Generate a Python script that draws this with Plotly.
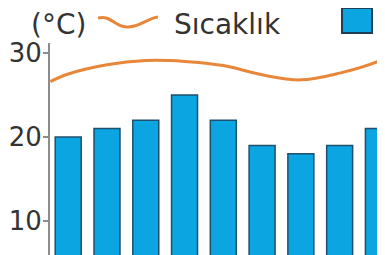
import plotly.graph_objects as go

# ---- data ----
months = ["Ocak", "Şubat", "Mart", "Nisan", "Mayıs", "Haziran", "Temmuz", "Ağustos", "Eylül"]
precip = [20, 21, 22, 25, 22, 19, 18, 19, 21]
temp_x = [-0.46, 0, 1, 2, 3, 4, 5, 6, 7, 8, 8.17]
temp = [26.6, 27.5, 28.6, 29.1, 29.0, 28.5, 27.4, 26.8, 27.6, 29.0, 29.4]
yticks = [10, 20, 30]
unit_label = "(°C)"
temp_label = "Sıcaklık"
precip_label = "Yağış (mm)"

OFF = 8                      # page (body) margin of the browser
W, H = 385 - OFF, 255 - OFF
ML, MT = 50 - OFF, 43 - OFF
PW, PH = W - ML, H - MT

def px(x):                   # screen pixel -> paper
    return (x - OFF - ML) / PW

def py(y):
    return (H - (y - OFF)) / PH

BAR = "#0ba5e2"
BAR_EDGE = "#1f4f6c"
LINE = "#e8873a"
TXT = "#333333"
FONT = "DejaVu Sans"

fig = go.Figure()
fig.add_trace(go.Bar(
    x=list(range(len(months))), y=precip, width=0.67,
    marker=dict(color=BAR, line=dict(color=BAR_EDGE, width=1.5)),
    hovertext=months, showlegend=False,
))
fig.add_trace(go.Scatter(
    x=temp_x, y=temp, mode="lines",
    line=dict(color=LINE, width=3, shape="spline", smoothing=1),
    showlegend=False,
))

# custom legend (wavy line symbol + square)
wave = [(98, 18), (112, 15), (116, 28), (128, 27), (140, 27), (148, 18), (158, 17)]
p = [(px(a), py(b)) for a, b in wave]
path = "M {},{} C {},{} {},{} {},{} C {},{} {},{} {},{}".format(
    p[0][0], p[0][1], p[1][0], p[1][1], p[2][0], p[2][1], p[3][0], p[3][1],
    p[4][0], p[4][1], p[5][0], p[5][1], p[6][0], p[6][1])
fig.add_shape(type="path", path=path, xref="paper", yref="paper",
              line=dict(color=LINE, width=3))
fig.add_shape(type="rect", xref="paper", yref="paper",
              x0=px(342), x1=px(372), y0=py(33), y1=py(8),
              fillcolor=BAR, line=dict(color="#1e3f55", width=2))

ann_font = dict(family=FONT, size=28, color=TXT)
fig.add_annotation(text=unit_label, xref="paper", yref="paper", x=px(29), y=py(25),
                   xanchor="left", yanchor="middle", showarrow=False, font=ann_font)
fig.add_annotation(text=temp_label, xref="paper", yref="paper", x=px(172), y=py(25),
                   xanchor="left", yanchor="middle", showarrow=False, font=ann_font)
fig.add_annotation(text=precip_label, xref="paper", yref="paper", x=px(378), y=py(25),
                   xanchor="left", yanchor="middle", showarrow=False, font=ann_font)

fig.update_layout(
    width=W, height=H,
    margin=dict(l=ML, r=0, t=MT, b=0, pad=0, autoexpand=False),
    paper_bgcolor="white", plot_bgcolor="white",
    bargap=0.33,
    xaxis=dict(range=[-0.47, 8.17], visible=False, showgrid=False, zeroline=False),
    yaxis=dict(range=[5.95, 31.19], tickvals=yticks, showline=True,
               linecolor="#8c8c8c", linewidth=2, ticks="outside", ticklen=5,
               tickcolor="#8c8c8c", tickwidth=1.5, showgrid=False, zeroline=False,
               ticklabelstandoff=-4,
               tickfont=dict(family=FONT, size=26, color=TXT)),
)

fig.write_html("out.html")
